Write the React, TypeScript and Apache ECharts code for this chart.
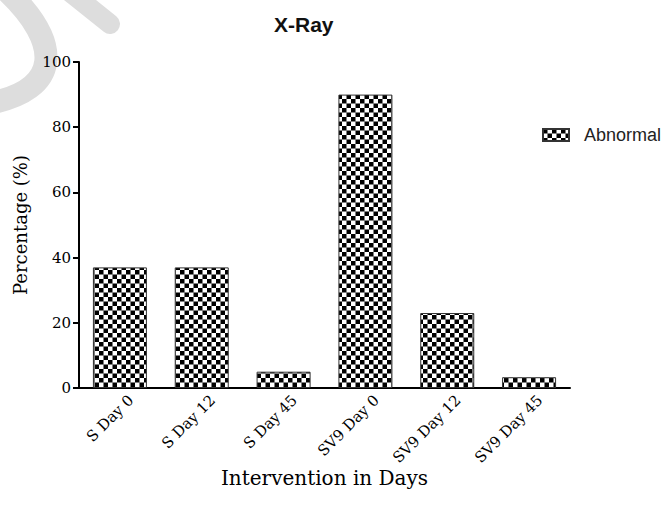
import React, { useEffect, useRef } from "react";
import * as echarts from "echarts";

const categories = ["S Day 0", "S Day 12", "S Day 45", "SV9 Day 0", "SV9 Day 12", "SV9 Day 45"];
const abnormalValues = [37, 37, 5, 90, 23, 3.3];
const seriesName = "Abnormal";
const chartTitle = "X-Ray";
const xAxisName = "Intervention in Days";
const yAxisName = "Percentage (%)";

function checkerPattern() {
  const c = document.createElement("canvas");
  c.width = 18;
  c.height = 18;
  const ctx = c.getContext("2d")!;
  ctx.fillStyle = "#ffffff";
  ctx.fillRect(0, 0, 18, 18);
  ctx.fillStyle = "#000000";
  ctx.fillRect(0, 0, 9, 9);
  ctx.fillRect(9, 9, 9, 9);
  return { image: c.toDataURL(), repeat: "repeat", imageWidth: 9, imageHeight: 9 } as any;
}

export default function App() {
  const ref = useRef<HTMLDivElement>(null);
  useEffect(() => {
    if (!ref.current) return;
    const chart = echarts.init(ref.current, null, { renderer: "svg" });
    const pattern = checkerPattern();
    const serif = "DejaVu Serif";
    chart.setOption({
      animation: false,
      backgroundColor: "#ffffff",
      title: {
        text: chartTitle,
        left: 274,
        top: 14,
        padding: 0,
        textStyle: { fontFamily: "Liberation Sans", fontWeight: "bold", fontSize: 21, color: "#111" },
      },
      graphic: [
        {
          type: "bezierCurve",
          silent: true,
          z: -10,
          shape: { x1: 8, y1: -8, x2: -14, y2: 104, cpx1: 60, cpy1: 42, cpx2: 64, cpy2: 90 },
          style: { stroke: "#dddddd", lineWidth: 23, fill: null, lineCap: "round" },
        },
        {
          type: "line",
          silent: true,
          z: -10,
          shape: { x1: 70, y1: -8, x2: 110, y2: 24 },
          style: { stroke: "#dddddd", lineWidth: 20, lineCap: "round" },
        },
      ],
      legend: {
        data: [seriesName],
        left: 537,
        top: 121,
        itemWidth: 26,
        itemHeight: 12,
        itemGap: 10,
        icon: "rect",
        textStyle: { fontFamily: "Liberation Sans", fontSize: 18, color: "#222", padding: [0, 0, 0, 10] },
      },
      grid: { left: 79, right: 97, top: 62, bottom: 128, containLabel: false },
      xAxis: {
        type: "category",
        data: categories,
        name: xAxisName,
        nameLocation: "middle",
        nameGap: 80,
        nameMoveOverlap: false,
        nameTextStyle: { fontFamily: serif, fontSize: 20, color: "#000" },
        axisLine: { lineStyle: { color: "#000", width: 2 } },
        axisTick: { alignWithLabel: true, length: 6, lineStyle: { color: "#000", width: 2 } },
        axisLabel: {
          rotate: 45,
          margin: 10,
          verticalAlign: "top",
          padding: [0, -8, 0, 0],
          fontFamily: serif,
          fontSize: 15,
          color: "#000",
        },
      },
      yAxis: {
        type: "value",
        min: 0,
        max: 100,
        interval: 20,
        name: yAxisName,
        nameLocation: "middle",
        nameGap: 50,
        nameMoveOverlap: false,
        nameTextStyle: { fontFamily: serif, fontSize: 18, color: "#000" },
        axisLine: { show: true, lineStyle: { color: "#000", width: 2 } },
        axisTick: { show: true, length: 6, lineStyle: { color: "#000", width: 2 } },
        axisLabel: { margin: 8, fontFamily: serif, fontSize: 15, color: "#000" },
        splitLine: { show: false },
      },
      series: [
        {
          name: seriesName,
          type: "bar",
          data: abnormalValues,
          barWidth: "66%",
          itemStyle: { color: pattern, borderColor: "#333", borderWidth: 1 },
        },
      ],
    });
    return () => chart.dispose();
  }, []);
  return (
    <div
      ref={ref}
      style={{ position: "fixed", left: 0, top: 0, width: 667, height: 516, background: "#fff" }}
    />
  );
}
